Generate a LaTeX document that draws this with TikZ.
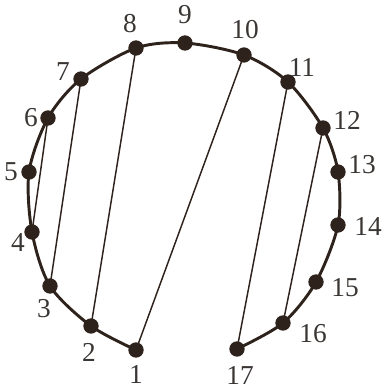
\documentclass[tikz,border=0pt]{standalone}
\usepackage{fontspec}
\setmainfont{Liberation Serif}
\usepackage{tikz}
\definecolor{Ink}{HTML}{2E221C}
\definecolor{Grey}{HTML}{3A3634}

\begin{document}
\begin{tikzpicture}[x=0.75pt, y=-0.75pt, font=\fontsize{20.5}{20.5}\selectfont]
\tikzset{dot/.style={circle, fill=Ink, inner sep=0pt, minimum size=11.5pt}, rim/.style={draw=Ink, line width=2.2pt}, chord/.style={draw=Ink, line width=1.1pt}, lbl/.style={text=Grey, inner sep=0pt}}
\useasboundingbox (0,0) rectangle (385,389);
\foreach \n/\x/\y in {1/136/350, 2/91/326, 3/50/286, 4/32/232, 5/29/172, 6/48/118, 7/81/79, 8/136/48, 9/185/43, 10/244/55, 11/288/82, 12/323/128, 13/338/172, 14/338/225, 15/316/282, 16/283/323, 17/237/349} \coordinate (p\n) at (\x,\y);
\draw[rim] plot[smooth, tension=0.5] coordinates {(p1) (p2) (p3) (p4) (p5) (p6) (p7) (p8) (p9) (p10) (p11) (p12) (p13) (p14) (p15) (p16) (p17)};
\foreach \a/\b in {1/10,2/8,3/7,4/6,17/11,16/12} \draw[chord] (p\a) -- (p\b);
\foreach \n/\lx/\ly in {1/136/374, 2/89/352, 3/44/309, 4/18/243, 5/11/172, 6/31/118, 7/63/72, 8/130/24, 9/185/15, 10/245/30, 11/302/67, 12/347/120, 13/362/165, 14/368/226, 15/345/288, 16/313/334, 17/240/375} {\node[dot] (d\n) at (p\n) {}; \node[lbl] (l\n) at (\lx,\ly) {\n};}
\end{tikzpicture}
\end{document}
